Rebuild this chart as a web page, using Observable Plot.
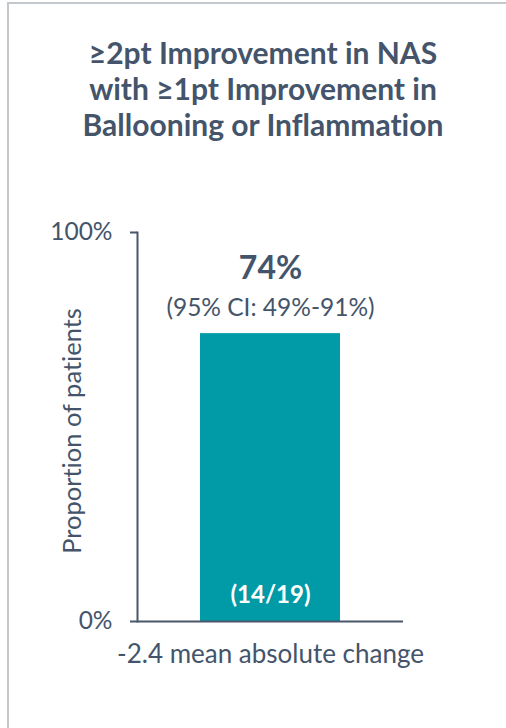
<!DOCTYPE html>
<html>
<head>
<meta charset="utf-8">
<script src="https://cdn.jsdelivr.net/npm/d3@7"></script>
<script src="https://cdn.jsdelivr.net/npm/@observablehq/plot@0.6"></script>
<style>
  html, body { margin: 0; padding: 0; background: #fff; }
  #wrap {
    position: relative; width: 506px; height: 728px; box-sizing: border-box;
    font-family: Lato, "Open Sans", sans-serif; color: #44546a; overflow: hidden;
    font-variant-ligatures: none;
  }
  #frame-top { position: absolute; left: 7px; top: 2px; width: 499px; height: 2px; background: #c3c8cc; }
  #frame-left { position: absolute; left: 7px; top: 2px; width: 2px; height: 726px; background: #c3c8cc; }
  #title {
    position: absolute; left: 8px; width: 510px; top: 34px; text-align: center;
    font-weight: 700; font-size: 30px; line-height: 36px; color: #44546a;
    font-variant-ligatures: none; font-feature-settings: "liga" 0;
  }
  #chart { position: absolute; left: 0; top: 180px; }
  #chart svg text { font-variant-ligatures: none; }
</style>
</head>
<body>
<div id="wrap">
  <div id="frame-top"></div>
  <div id="frame-left"></div>
  <div id="title">≥2pt Improvement in NAS<br>with ≥1pt Improvement in<br>Ballooning or Inflammation</div>
  <div id="chart"></div>
</div>
<script>
const categories = ["-2.4 mean absolute change"];
const proportions = [0.74];
const responders = [14];
const totals = [19];
const ciLow = [0.49];
const ciHigh = [0.91];
const yTicks = [0, 1];
const yLabel = "Proportion of patients";

const data = categories.map((c, i) => ({
  cat: c, value: proportions[i], n: responders[i], total: totals[i], lo: ciLow[i], hi: ciHigh[i]
}));

const ink = "#44546a";
const teal = "#009ba6";

const plot = Plot.plot({
  width: 506,
  height: 548,
  marginLeft: 137,
  marginRight: 103,
  marginTop: 52,
  marginBottom: 107,
  style: { fontFamily: "Lato, 'Open Sans', sans-serif", color: ink, background: "transparent", overflow: "visible" },
  x: { domain: categories, paddingInner: 0, paddingOuter: 0.45, axis: null },
  y: { domain: [0, 1], axis: null },
  marks: [
    Plot.barY(data, { x: "cat", y: "value", fill: teal }),
    Plot.frame({ anchor: "left", stroke: "#4a5669", strokeWidth: 2 }),
    Plot.ruleY([0], { stroke: "#4a5669", strokeWidth: 2 }),
    Plot.axisY(yTicks, {
      tickSize: 7, tickPadding: 18, tickFormat: d => `${Math.round(d * 100)}%`,
      fontSize: 24.5, stroke: "#4a5669", strokeWidth: 2, fill: ink, label: null
    }),
    Plot.axisX({
      tickSize: 0, tickPadding: 23, fontSize: 26, fill: ink, label: null
    }),
    Plot.text([yLabel], {
      frameAnchor: "left", textAnchor: "middle", rotate: -90, dx: -65, dy: 4,
      text: d => d, fontSize: 25.5, fill: ink
    }),
    Plot.text(data, {
      x: "cat", y: "value", text: d => `${Math.round(d.value * 100)}%`,
      dy: -65, fontSize: 32, fontWeight: 700, fill: ink
    }),
    Plot.text(data, {
      x: "cat", y: "value", text: d => `(95% CI: ${Math.round(d.lo * 100)}%-${Math.round(d.hi * 100)}%)`,
      dy: -25, fontSize: 24.5, fill: ink
    }),
    Plot.text(data, {
      x: "cat", y: 0, text: d => `(${d.n}/${d.total})`,
      dy: -26, fontSize: 24, fontWeight: 700, fill: "#ffffff"
    })
  ]
});
document.getElementById("chart").appendChild(plot);
</script>
</body>
</html>
